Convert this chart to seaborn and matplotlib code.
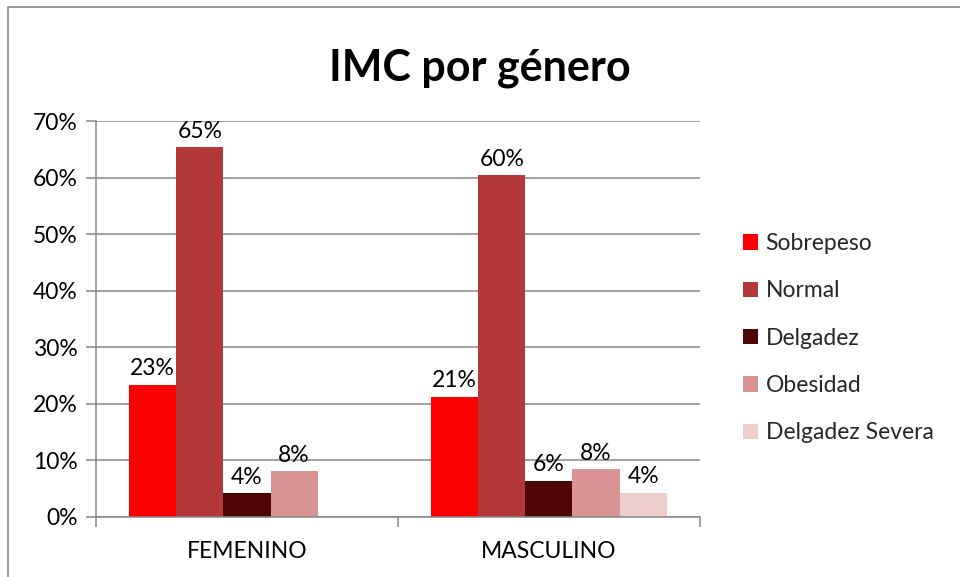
import matplotlib
matplotlib.use("Agg")
import matplotlib.pyplot as plt
import seaborn as sns
import pandas as pd
import numpy as np
from matplotlib.patches import Rectangle
from matplotlib.ticker import PercentFormatter, FixedLocator

generos = ["FEMENINO", "MASCULINO"]
categorias = ["Sobrepeso", "Normal", "Delgadez", "Obesidad", "Delgadez Severa"]
femenino = [0.234, 0.654, 0.042, 0.081]          # no Delgadez Severa
masculino = [0.213, 0.604, 0.064, 0.084, 0.043]
colores = ["#FF0000", "#B53838", "#4D0505", "#D99594", "#F0CDCD"]
titulo = "IMC por género"

rows = []
for cat, v in zip(categorias, femenino):
    rows.append({"genero": generos[0], "categoria": cat, "valor": v})
for cat, v in zip(categorias, masculino):
    rows.append({"genero": generos[1], "categoria": cat, "valor": v})
df = pd.DataFrame(rows)

sns.set_theme(style="white")
plt.rcParams["font.family"] = ["Lato", "DejaVu Sans"]

FS = 16.5

fig = plt.figure(figsize=(9.6, 5.77), dpi=100)
ax = fig.add_axes([0.100, 0.104, 0.629, 0.686])

sns.barplot(data=df, x="genero", y="valor", hue="categoria",
            order=generos, hue_order=categorias, palette=colores,
            width=0.78, gap=0, ax=ax, errorbar=None, legend=True,
            edgecolor="none", linewidth=0, saturation=1)

for c in ax.containers:
    ax.bar_label(c, fmt="{:.0%}", padding=4, fontsize=FS, color="black")

ax.set_ylim(0, 0.70)
ax.set_xlim(-0.5, 1.5)
ax.yaxis.set_major_locator(FixedLocator(np.arange(0, 0.71, 0.10)))
ax.yaxis.set_major_formatter(PercentFormatter(1.0, decimals=0))
ax.grid(axis="y", color="#868686", linewidth=1.1)
ax.set_axisbelow(True)
ax.set_xlabel("")
ax.set_ylabel("")

for s in ["top", "right"]:
    ax.spines[s].set_visible(False)
for s in ["left", "bottom"]:
    ax.spines[s].set_color("#868686")
    ax.spines[s].set_linewidth(1.1)

ax.tick_params(axis="y", which="major", length=7, width=1.1, color="#868686",
               labelsize=FS, labelcolor="black", pad=6, left=True, direction="out")
ax.tick_params(axis="x", which="major", length=0, labelsize=FS, labelcolor="black", pad=17)
ax.set_xticks([0, 1])
ax.set_xticklabels(generos)
ax.set_xticks([-0.5, 0.5, 1.5], minor=True)
ax.tick_params(axis="x", which="minor", length=7, width=1.1, color="#868686",
               bottom=True, direction="out")

leg = ax.legend(loc="center left", bbox_to_anchor=(0.764, 0.414),
                bbox_transform=fig.transFigure, frameon=False, fontsize=FS,
                handlelength=0.65, handleheight=0.65, handletextpad=0.35,
                labelspacing=1.15, borderaxespad=0)

fig.text(0.5, 0.882, titulo, ha="center", va="center", fontsize=31,
         fontweight="bold", color="black")

fig.patches.append(Rectangle((8 / 960, -0.1), 1.2, (577 - 7) / 577 + 0.1,
                             transform=fig.transFigure, fill=False,
                             edgecolor="#888888", linewidth=1.2))

fig.savefig("out.png", dpi=100, facecolor="white")
